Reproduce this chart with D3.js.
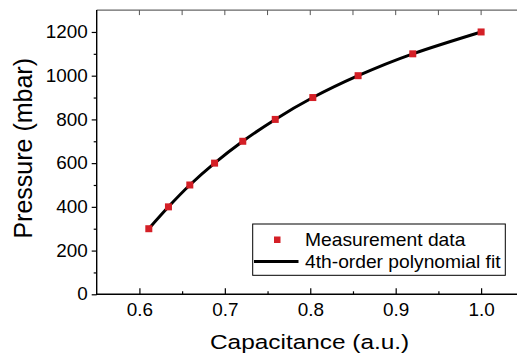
<!DOCTYPE html>
<html><head><meta charset="utf-8">
<script src="https://cdn.jsdelivr.net/npm/d3@7"></script>
<style>body{margin:0;background:#fff}svg{display:block}text{font-family:"Liberation Sans",Arial,sans-serif;fill:#000}</style>
</head><body><div id="c"></div>
<script>
const capacitance = [0.611, 0.634, 0.659, 0.688, 0.721, 0.759, 0.803, 0.856, 0.920, 1.000];
const pressure    = [300, 400, 500, 600, 700, 800, 900, 1000, 1100, 1200];
const xTicks = [0.6, 0.7, 0.8, 0.9, 1.0];
const xMinor = [0.55, 0.65, 0.75, 0.85, 0.95, 1.05];
const yTicks = [0, 200, 400, 600, 800, 1000, 1200];
const yMinor = [100, 300, 500, 700, 900, 1100];
const legendLabels = ["Measurement data", "4th-order polynomial fit"];
const xTitle = "Capacitance (a.u.)", yTitle = "Pressure (mbar)";

const W = 517, H = 359;
const L = 96.7, T = 10.1, B = 294.3;
const x = d3.scaleLinear().domain([0.55, 1.05]).range([L, L + 0.5 * 854.25]);
const y = d3.scaleLinear().domain([0, 1300]).range([B, T]);
const red = "#d41f26";

const svg = d3.select("#c").append("svg").attr("width", W).attr("height", H);

function stretch(sel, s) {
  sel.each(function () {
    const t = d3.select(this);
    const bb = this.getBBox();
    const cx = t.attr("text-anchor") === "end" || this.parentNode.parentNode.getAttribute("text-anchor") === "end" ? bb.x + bb.width : bb.x + bb.width / 2;
    t.attr("transform", `translate(${cx},0) scale(${s},1) translate(${-cx},0)`);
  });
}

// top axis (grey) with inward ticks
svg.append("line").attr("x1", L).attr("x2", W).attr("y1", T).attr("y2", T).attr("stroke", "#666").attr("stroke-width", 1.2);
svg.selectAll(".tt").data(xTicks.concat(xMinor.slice(1))).join("line")
  .attr("x1", d => x(d)).attr("x2", d => x(d)).attr("y1", T).attr("y2", T + 5)
  .attr("stroke", "#555").attr("stroke-width", 1);

// bottom axis
const gx = svg.append("g").attr("transform", `translate(0,${B})`)
  .call(d3.axisBottom(x).tickValues(xTicks).tickSize(-6).tickFormat(d3.format(".1f")));
gx.select(".domain").remove();
gx.selectAll(".tick line").attr("stroke", "#000").attr("stroke-width", 1.2);
gx.selectAll(".tick text").attr("font-size", 17.5).attr("font-family", null).attr("dy", "0.71em").attr("y", 9);
svg.append("g").attr("transform", `translate(0,${B})`)
  .call(d3.axisBottom(x).tickValues(xMinor.slice(1)).tickSize(-3).tickFormat(""))
  .call(g => g.select(".domain").remove())
  .selectAll("line").attr("stroke", "#000").attr("stroke-width", 1.2);
svg.append("line").attr("x1", L).attr("x2", W).attr("y1", B).attr("y2", B).attr("stroke", "#000").attr("stroke-width", 1.4);

// left axis
const gy = svg.append("g").attr("transform", `translate(${L},0)`)
  .call(d3.axisLeft(y).tickValues(yTicks).tickSize(5).tickPadding(4).tickFormat(d3.format("d")));
gy.select(".domain").remove();
gy.selectAll(".tick line").attr("stroke", "#000").attr("stroke-width", 1.2);
gy.selectAll(".tick text").attr("font-size", 17.5).attr("font-family", null);
svg.append("g").attr("transform", `translate(${L},0)`)
  .call(d3.axisLeft(y).tickValues(yMinor).tickSize(3).tickFormat(""))
  .call(g => g.select(".domain").remove())
  .selectAll("line").attr("stroke", "#000").attr("stroke-width", 1.2);
svg.append("line").attr("x1", L).attr("x2", L).attr("y1", T).attr("y2", B + 0.7).attr("stroke", "#000").attr("stroke-width", 1.4);

stretch(gx.selectAll(".tick text"), 1.08);
stretch(gy.selectAll(".tick text"), 1.08);

// fit curve
const pts = capacitance.map((c, i) => [c, pressure[i]]);
svg.append("path").datum(pts)
  .attr("d", d3.line().x(d => x(d[0])).y(d => y(d[1])).curve(d3.curveNatural))
  .attr("fill", "none").attr("stroke", "#000").attr("stroke-width", 3);

// markers
svg.selectAll(".m").data(pts).join("rect")
  .attr("x", d => x(d[0]) - 3.5).attr("y", d => y(d[1]) - 3.5)
  .attr("width", 7).attr("height", 7).attr("fill", red);

// legend
const lg = svg.append("g");
lg.append("rect").attr("x", 252.7).attr("y", 224).attr("width", 252.6).attr("height", 51.3)
  .attr("fill", "#fff").attr("stroke", "#000").attr("stroke-width", 1);
lg.append("rect").attr("x", 274).attr("y", 236.5).attr("width", 6.5).attr("height", 6.5).attr("fill", red);
lg.append("line").attr("x1", 254).attr("x2", 298.5).attr("y1", 261.5).attr("y2", 261.5).attr("stroke", "#000").attr("stroke-width", 3);
const lt = lg.selectAll(".lt").data(legendLabels).join("text")
  .attr("x", 305).attr("y", (d, i) => 246.5 + i * 22).attr("font-size", 17.5).text(d => d);
lt.attr("transform", `translate(305,0) scale(1.1,1) translate(-305,0)`);

// titles
const xt = svg.append("text").attr("x", 210).attr("y", 349.5).attr("font-size", 20.5).text(xTitle);
xt.attr("transform", `translate(210,0) scale(1.19,1) translate(-210,0)`);
svg.append("text").attr("transform", `translate(31.5,148.3) rotate(-90)`)
  .attr("text-anchor", "middle").attr("font-size", 25).text(yTitle);
</script></body></html>
